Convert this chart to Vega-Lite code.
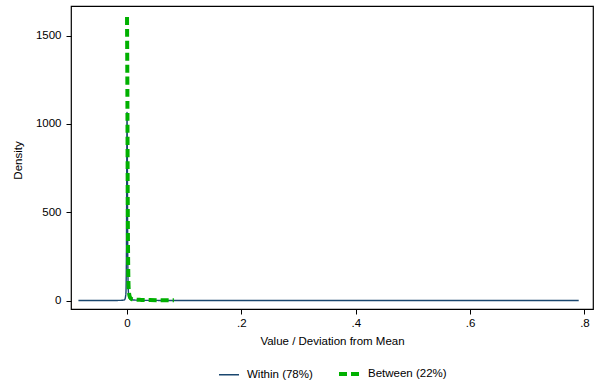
{
  "$schema": "https://vega.github.io/schema/vega-lite/v6.json",
  "width": 522,
  "height": 303,
  "autosize": "none",
  "padding": {"left": 71, "top": 6, "right": 8, "bottom": 74},
  "background": "white",
  "config": {
    "font": "Liberation Sans",
    "view": {"stroke": "#000000", "strokeWidth": 1.2},
    "axis": {
      "grid": false,
      "domain": false,
      "tickColor": "#000000",
      "tickSize": 5,
      "labelColor": "#000000",
      "labelFontSize": 11.5,
      "titleColor": "#000000",
      "titleFontSize": 11.5,
      "titleFontWeight": "normal"
    }
  },
  "data": {
    "values": [
      {"series": "Within (78%)", "x": -0.085, "y": 0.4},
      {"series": "Within (78%)", "x": -0.05, "y": 0.5},
      {"series": "Within (78%)", "x": -0.02, "y": 0.8},
      {"series": "Within (78%)", "x": -0.008, "y": 2},
      {"series": "Within (78%)", "x": -0.004, "y": 6},
      {"series": "Within (78%)", "x": -0.002, "y": 40},
      {"series": "Within (78%)", "x": -0.001, "y": 300},
      {"series": "Within (78%)", "x": -0.0004, "y": 850},
      {"series": "Within (78%)", "x": 0.0, "y": 1065},
      {"series": "Within (78%)", "x": 0.0005, "y": 850},
      {"series": "Within (78%)", "x": 0.0012, "y": 300},
      {"series": "Within (78%)", "x": 0.0022, "y": 60},
      {"series": "Within (78%)", "x": 0.004, "y": 12},
      {"series": "Within (78%)", "x": 0.008, "y": 5},
      {"series": "Within (78%)", "x": 0.02, "y": 2},
      {"series": "Within (78%)", "x": 0.05, "y": 1},
      {"series": "Within (78%)", "x": 0.1, "y": 0.6},
      {"series": "Within (78%)", "x": 0.2, "y": 0.4},
      {"series": "Within (78%)", "x": 0.4, "y": 0.3},
      {"series": "Within (78%)", "x": 0.6, "y": 0.2},
      {"series": "Within (78%)", "x": 0.79, "y": 0.2},
      {"series": "Between (22%)", "x": 0.0, "y": 1606},
      {"series": "Between (22%)", "x": 0.0006, "y": 1200},
      {"series": "Between (22%)", "x": 0.0012, "y": 600},
      {"series": "Between (22%)", "x": 0.002, "y": 200},
      {"series": "Between (22%)", "x": 0.003, "y": 60},
      {"series": "Between (22%)", "x": 0.005, "y": 20},
      {"series": "Between (22%)", "x": 0.008, "y": 9},
      {"series": "Between (22%)", "x": 0.015, "y": 5},
      {"series": "Between (22%)", "x": 0.025, "y": 4},
      {"series": "Between (22%)", "x": 0.04, "y": 3},
      {"series": "Between (22%)", "x": 0.06, "y": 2},
      {"series": "Between (22%)", "x": 0.082, "y": 1.5}
    ]
  },
  "mark": {"type": "line", "interpolate": "monotone", "clip": true},
  "encoding": {
    "x": {
      "field": "x",
      "type": "quantitative",
      "scale": {"domain": [-0.098, 0.815], "nice": false, "zero": false},
      "axis": {
        "values": [0, 0.2, 0.4, 0.6, 0.8],
        "labelExpr": "replace(format(datum.value, '.1~f'), '0.', '.')",
        "labelPadding": 3,
        "title": "Value / Deviation from Mean",
        "titleX": 261,
        "titleY": 32,
        "titleBaseline": "middle"
      }
    },
    "y": {
      "field": "y",
      "type": "quantitative",
      "scale": {"domain": [-47.6, 1668], "nice": false, "zero": false},
      "axis": {
        "values": [0, 500, 1000, 1500],
        "format": "d",
        "labelPadding": 5,
        "title": "Density",
        "titleX": -53,
        "titleY": 154,
        "titleAngle": -90,
        "titleAlign": "center",
        "titleBaseline": "middle"
      }
    },
    "color": {
      "field": "series",
      "type": "nominal",
      "sort": ["Within (78%)", "Between (22%)"],
      "scale": {"domain": ["Within (78%)", "Between (22%)"], "range": ["#1a476f", "#00b000"]},
      "legend": {
        "title": null,
        "orient": "none",
        "legendX": 147,
        "legendY": 356,
        "direction": "horizontal",
        "symbolType": "stroke",
        "symbolSize": 400,
        "labelFontSize": 11.5,
        "labelColor": "#000000",
        "labelOffset": 7,
        "columnPadding": 18
      }
    },
    "strokeDash": {
      "field": "series",
      "type": "nominal",
      "sort": ["Within (78%)", "Between (22%)"],
      "scale": {"domain": ["Within (78%)", "Between (22%)"], "range": [[1, 0], [8, 4]]}
    },
    "strokeWidth": {
      "field": "series",
      "type": "nominal",
      "sort": ["Within (78%)", "Between (22%)"],
      "scale": {"domain": ["Within (78%)", "Between (22%)"], "range": [1.4, 4]}
    },
    "order": {"field": "x", "type": "quantitative"}
  }
}
